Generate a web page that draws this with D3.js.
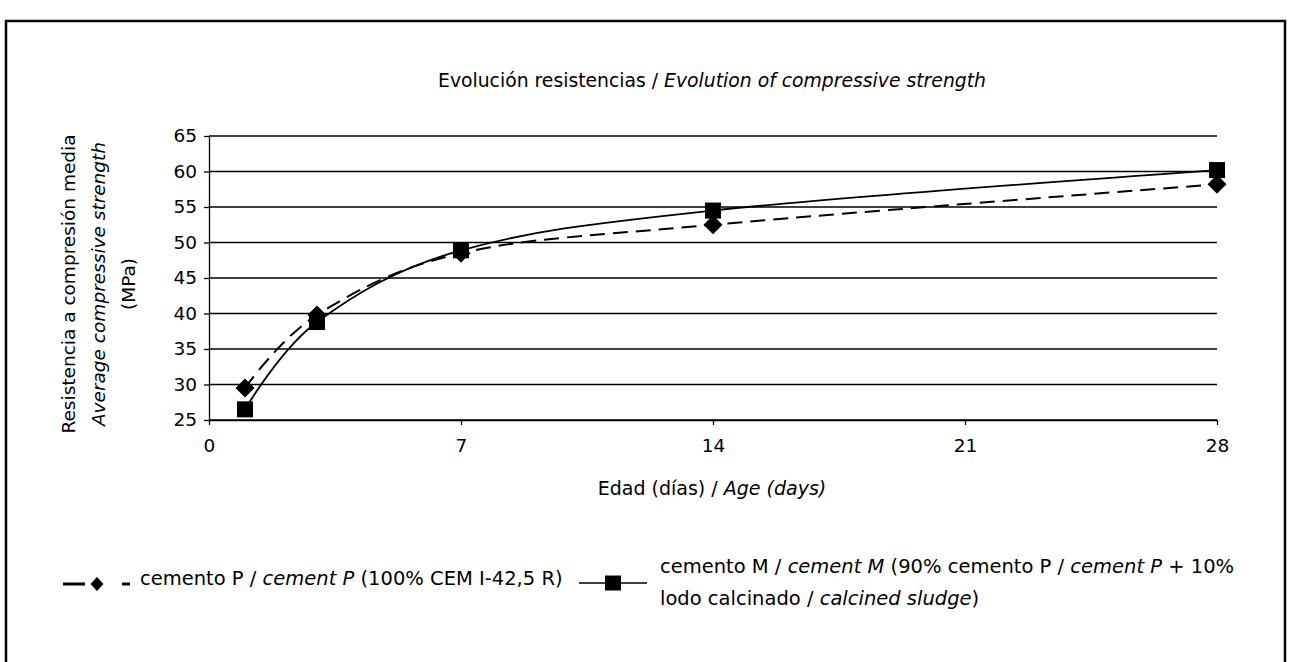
<!DOCTYPE html>
<html>
<head>
<meta charset="utf-8">
<script src="https://cdn.jsdelivr.net/npm/d3@7"></script>
<style>
  body { margin: 0; background: #fff; }
  svg text { font-family: "DejaVu Sans", Verdana, sans-serif; font-size: 18.5px; fill: #000; }
  .axis path, .axis line { stroke: #000; stroke-width: 1.3px; }
</style>
</head>
<body>
<svg id="chart" width="1289" height="662"></svg>
<script>
// chart values
var days = [1, 3, 7, 14, 28];
var cementP = [29.5, 39.8, 48.5, 52.5, 58.2];
var cementM = [26.5, 38.8, 48.9, 54.5, 60.2];
var xTicks = [0, 7, 14, 21, 28];
var yTicks = [25, 30, 35, 40, 45, 50, 55, 60, 65];

var svg = d3.select("#chart");

// outer frame
svg.append("rect")
  .attr("x", 6).attr("y", 21)
  .attr("width", 1279).attr("height", 700)
  .attr("fill", "none")
  .attr("stroke", "#000")
  .attr("stroke-width", 2.5);

var x = d3.scaleLinear().domain([0, 28]).range([209, 1217]);
var y = d3.scaleLinear().domain([25, 65]).range([420, 136]);

// horizontal gridlines
svg.append("g")
  .selectAll("line")
  .data(yTicks)
  .join("line")
  .attr("x1", x(0)).attr("x2", x(28))
  .attr("y1", function (d) { return y(d); })
  .attr("y2", function (d) { return y(d); })
  .attr("stroke", "#000")
  .attr("stroke-width", 1.3);

// axes
svg.append("g")
  .attr("class", "axis")
  .attr("transform", "translate(" + x(0) + ",0)")
  .call(d3.axisLeft(y).tickValues(yTicks).tickSize(5).tickSizeOuter(0).tickPadding(7));

svg.append("g")
  .attr("class", "axis")
  .attr("transform", "translate(0," + y(25) + ")")
  .call(d3.axisBottom(x).tickValues(xTicks).tickSize(5).tickSizeOuter(0).tickPadding(14));

svg.selectAll(".axis text").attr("font-family", "DejaVu Sans").attr("font-size", 19);

// series lines - smoothed like the spreadsheet original
var line = d3.line()
  .x(function (d) { return x(d[0]); })
  .y(function (d) { return y(d[1]); })
  .curve(d3.curveCardinal.tension(0));

var ptsP = days.map(function (d, i) { return [d, cementP[i]]; });
var ptsM = days.map(function (d, i) { return [d, cementM[i]]; });

svg.append("path")
  .datum(ptsM)
  .attr("d", line)
  .attr("fill", "none")
  .attr("stroke", "#000")
  .attr("stroke-width", 1.8);

svg.append("path")
  .datum(ptsP)
  .attr("d", line)
  .attr("fill", "none")
  .attr("stroke", "#000")
  .attr("stroke-width", 2)
  .attr("stroke-dasharray", "15,8");

// markers
function diamond(cx, cy, w, h) {
  return "M" + cx + "," + (cy - h / 2) + "L" + (cx + w / 2) + "," + cy +
    "L" + cx + "," + (cy + h / 2) + "L" + (cx - w / 2) + "," + cy + "Z";
}

svg.append("g")
  .selectAll("path")
  .data(ptsP)
  .join("path")
  .attr("d", function (d) { return diamond(x(d[0]), y(d[1]), 19, 19); })
  .attr("fill", "#000");

svg.append("g")
  .selectAll("rect")
  .data(ptsM)
  .join("rect")
  .attr("x", function (d) { return x(d[0]) - 8; })
  .attr("y", function (d) { return y(d[1]) - 8; })
  .attr("width", 16).attr("height", 16)
  .attr("fill", "#000");

// helper: text made of plain / italic parts
function richText(parent, px, py, parts, anchor, size) {
  var t = parent.append("text")
    .attr("x", px).attr("y", py)
    .attr("text-anchor", anchor || "start");
  if (size) t.style("font-size", size + "px");
  parts.forEach(function (p) {
    t.append("tspan")
      .attr("font-style", p[1] ? "italic" : "normal")
      .text(p[0]);
  });
  return t;
}

// title
richText(svg, 712, 87, [["Evolución resistencias / ", false], ["Evolution of compressive strength", true]], "middle", 18.8);

// x axis title
richText(svg, 712, 495, [["Edad (días) / ", false], ["Age (days)", true]], "middle", 19);

// y axis title (three rotated lines)
var yTitle = svg.append("g").attr("transform", "translate(0,284) rotate(-90)");
richText(yTitle, 0, 75, [["Resistencia a compresión media", false]], "middle");
richText(yTitle, 0, 105, [["Average compressive strength", true]], "middle");
richText(yTitle, 0, 135, [["(MPa)", false]], "middle");

// legend
var lg = svg.append("g");
lg.append("line").attr("x1", 63).attr("x2", 85).attr("y1", 584).attr("y2", 584)
  .attr("stroke", "#000").attr("stroke-width", 3);
lg.append("line").attr("x1", 122).attr("x2", 130).attr("y1", 584).attr("y2", 584)
  .attr("stroke", "#000").attr("stroke-width", 3);
lg.append("path").attr("d", diamond(97, 584, 13, 14)).attr("fill", "#000");
richText(lg, 140, 585, [["cemento P / ", false], ["cement P", true], [" (100% CEM I-42,5 R)", false]], "start", 19.5);

lg.append("line").attr("x1", 579).attr("x2", 647).attr("y1", 583).attr("y2", 583)
  .attr("stroke", "#000").attr("stroke-width", 1.5);
lg.append("rect").attr("x", 605).attr("y", 575.5).attr("width", 16).attr("height", 15).attr("fill", "#000");
richText(lg, 660, 573, [["cemento M / ", false], ["cement M", true], [" (90% cemento P / ", false], ["cement P", true], [" + 10%", false]], "start", 19.5);
richText(lg, 660, 605, [["lodo calcinado / ", false], ["calcined sludge", true], [")", false]], "start", 19.5);
</script>
</body>
</html>
